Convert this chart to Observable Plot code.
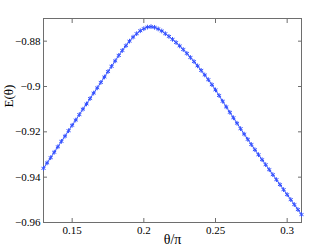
<!DOCTYPE html>
<html>
<head>
<meta charset="utf-8">
<script src="https://cdn.jsdelivr.net/npm/d3@7"></script>
<script src="https://cdn.jsdelivr.net/npm/@observablehq/plot@0.6"></script>
<style>
  html, body { margin: 0; padding: 0; background: #fff; }
  #chart svg { display: block; }
  svg text { font-family: "Liberation Serif" !important; }
</style>
</head>
<body>
<div id="chart"></div>
<script>
const theta = [
  0.130, 0.1325, 0.135, 0.1375, 0.140, 0.1425, 0.145, 0.1475, 0.150, 0.1525,
  0.155, 0.1575, 0.160, 0.1625, 0.165, 0.1675, 0.170, 0.1725, 0.175, 0.1775,
  0.180, 0.1825, 0.185, 0.1875, 0.190, 0.1925, 0.195, 0.1975, 0.200, 0.2025,
  0.205, 0.2075, 0.210, 0.2125, 0.215, 0.2175, 0.220, 0.2225, 0.225, 0.2275,
  0.230, 0.2325, 0.235, 0.2375, 0.240, 0.2425, 0.245, 0.2475, 0.250, 0.2525,
  0.255, 0.2575, 0.260, 0.2625, 0.265, 0.2675, 0.270, 0.2725, 0.275, 0.2775,
  0.280, 0.2825, 0.285, 0.2875, 0.290, 0.2925, 0.295, 0.2975, 0.300, 0.3025,
  0.305, 0.3075, 0.310
];
const energy = [
  -0.9361, -0.9337, -0.9314, -0.9290, -0.9266, -0.9242, -0.9219, -0.9195, -0.9171, -0.9148,
  -0.9124, -0.9100, -0.9077, -0.9053, -0.9029, -0.9006, -0.8982, -0.8958, -0.8934, -0.8911,
  -0.8887, -0.8863, -0.8841, -0.8820, -0.8800, -0.8782, -0.8767, -0.8754, -0.8745, -0.8738,
  -0.8736, -0.8739, -0.8746, -0.8755, -0.8767, -0.8779, -0.8792, -0.8806, -0.8821, -0.8837,
  -0.8854, -0.8872, -0.8890, -0.8909, -0.8929, -0.8949, -0.8970, -0.8992, -0.9015, -0.9040,
  -0.9065, -0.9090, -0.9114, -0.9138, -0.9162, -0.9186, -0.9210, -0.9233, -0.9256, -0.9279,
  -0.9301, -0.9323, -0.9345, -0.9367, -0.9389, -0.9411, -0.9433, -0.9455, -0.9477, -0.9499,
  -0.9521, -0.9543, -0.9565
];
const xTicks = [0.15, 0.2, 0.25, 0.3];
const yTicks = [-0.96, -0.94, -0.92, -0.9, -0.88];
const xLabel = "θ/π";
const yLabel = "E(θ)";

const data = theta.map((t, i) => ({t, e: energy[i]}));
const fmt = d => String(d).replace("-", "\u2212");
const axisColor = "#6e6e6e";
const font = "Liberation Serif";
const blue = "#3350ff";

const chart = Plot.plot({
  width: 332,
  height: 250,
  marginLeft: 43,
  marginRight: 31,
  marginTop: 18,
  marginBottom: 28,
  style: {fontFamily: font, fontSize: "11px", color: "#000", background: "#fff"},
  x: {domain: [0.13, 0.31]},
  y: {domain: [-0.96, -0.87]},
  marks: [
    Plot.frame({stroke: axisColor}),
    // inward tick marks on all four sides
    Plot.axisX(xTicks, {anchor: "bottom", tickSize: 4, dy: -4, tickFormat: () => "", stroke: axisColor, label: null}),
    Plot.axisX(xTicks, {anchor: "top", tickSize: 4, dy: 4, tickFormat: () => "", stroke: axisColor, label: null}),
    Plot.axisY(yTicks, {anchor: "left", tickSize: 4, dx: 4, tickFormat: () => "", stroke: axisColor, label: null}),
    Plot.axisY(yTicks, {anchor: "right", tickSize: 4, dx: -4, tickFormat: () => "", stroke: axisColor, label: null}),
    // tick labels
    Plot.axisX(xTicks, {anchor: "bottom", tickSize: 0, tickPadding: 4, tickFormat: fmt, label: null, fill: "#000", fontFamily: font, fontSize: 11}),
    Plot.axisY(yTicks, {anchor: "left", tickSize: 0, tickPadding: 3, tickFormat: fmt, label: null, fill: "#000", fontFamily: font, fontSize: 11}),
    // data
    Plot.line(data, {x: "t", y: "e", stroke: blue, strokeWidth: 1}),
    Plot.dot(data, {x: "t", y: "e", symbol: "asterisk", r: 2.2, stroke: blue, strokeWidth: 1}),
    // axis titles
    Plot.text([xLabel], {frameAnchor: "bottom", dy: 21, fontSize: 14, fill: "#000", fontFamily: font}),
    Plot.text([yLabel], {frameAnchor: "left", dx: -35, dy: -13, rotate: -90, fontSize: 13, fill: "#000", fontFamily: font})
  ]
});
d3.select(chart).selectAll("text").style("font-family", "'Liberation Serif'", "important");
document.getElementById("chart").appendChild(chart);
</script>
</body>
</html>
